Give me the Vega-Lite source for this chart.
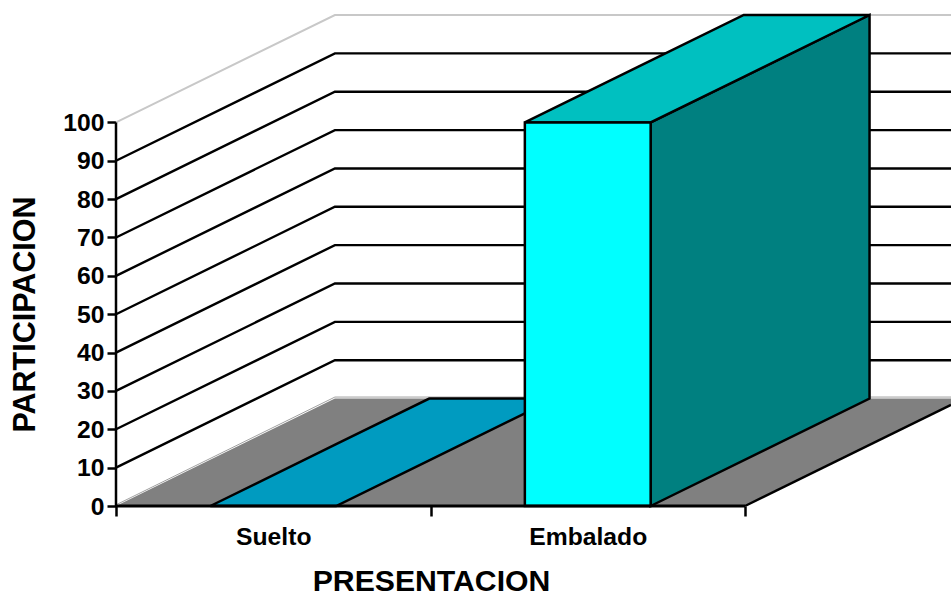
{"$schema":"https://vega.github.io/schema/vega-lite/v6.json","width":835,"height":491,"autosize":"none","padding":{"left":116,"top":15,"right":0,"bottom":88},"background":"white","config":{"view":{"stroke":null},"font":"Liberation Sans"},
"datasets":{
"grid":[{"g":10,"x":0,"y":10},{"g":10,"x":0.696,"y":38},{"g":10,"x":2.655,"y":38},{"g":20,"x":0,"y":20},{"g":20,"x":0.696,"y":48},{"g":20,"x":2.655,"y":48},{"g":30,"x":0,"y":30},{"g":30,"x":0.696,"y":58},{"g":30,"x":2.655,"y":58},{"g":40,"x":0,"y":40},{"g":40,"x":0.696,"y":68},{"g":40,"x":2.655,"y":68},{"g":50,"x":0,"y":50},{"g":50,"x":0.696,"y":78},{"g":50,"x":2.655,"y":78},{"g":60,"x":0,"y":60},{"g":60,"x":0.696,"y":88},{"g":60,"x":2.655,"y":88},{"g":70,"x":0,"y":70},{"g":70,"x":0.696,"y":98},{"g":70,"x":2.655,"y":98},{"g":80,"x":0,"y":80},{"g":80,"x":0.696,"y":108},{"g":80,"x":2.655,"y":108},{"g":90,"x":0,"y":90},{"g":90,"x":0.696,"y":118},{"g":90,"x":2.655,"y":118}],
"grid100":[{"x":0,"y":100},{"x":0.696,"y":128},{"x":2.655,"y":128}],
"edge":[{"x":0,"y":0.3},{"x":0.696,"y":28.4},{"x":2.655,"y":28.4}],
"floor":[{"x":0,"y":0,"y2":0},{"x":0.696,"y":0,"y2":28},{"x":2,"y":0,"y2":28},{"x":2.655,"y":26.35,"y2":28}],
"floorEdge":[{"x":2,"y":0},{"x":2.655,"y":26.35}],
"suelto":[{"x":0.3,"y":0,"y2":0},{"x":0.7,"y":0,"y2":16.1},{"x":0.996,"y":11.9,"y2":28},{"x":1.396,"y":28,"y2":28}],
"side":[{"x":1.7,"y":0,"y2":100},{"x":2.396,"y":28,"y2":128}],
"top":[{"x":1.3,"y":100,"y2":100},{"x":1.7,"y":100,"y2":116.1},{"x":1.996,"y":111.9,"y2":128},{"x":2.396,"y":128,"y2":128}],
"front":[{"x":1.3,"y":0,"y2":100},{"x":1.7,"y":0,"y2":100}],
"axisY":[{"x":0,"y":0,"y2":100}],
"axisX":[{"x":0,"x2":2,"y":0}]},
"encoding":{
"x":{"field":"x","type":"quantitative","scale":{"domain":[0,2.655],"nice":false,"zero":false},
"axis":{"values":[0,0.5,1,1.5,2],"domain":false,"grid":false,"tickColor":"black","tickWidth":2.5,"tickSize":10,"tickOpacity":{"condition":{"test":"datum.value % 1 === 0","value":1},"value":0},"labelExpr":"datum.value === 0.5 ? 'Suelto' : datum.value === 1.5 ? 'Embalado' : ''","labelFont":"Liberation Sans","labelFontSize":24.7,"labelFontWeight":"bold","labelColor":"black","labelPadding":8,"labelOverlap":false,"labelFlush":false,"title":"PRESENTACION","titleFont":"Liberation Sans","titleFontSize":30.2,"titleFontWeight":"bold","titleColor":"black","titleX":315,"titleY":84,"titleAnchor":"middle","titleAlign":"center","titleBaseline":"alphabetic"}},
"y":{"field":"y","type":"quantitative","scale":{"domain":[0,128],"nice":false,"zero":false},
"axis":{"values":[0,10,20,30,40,50,60,70,80,90,100],"domain":false,"grid":false,"tickColor":"black","tickWidth":2.5,"tickSize":9,"labelFont":"Liberation Sans","labelFontSize":24.7,"labelFontWeight":"bold","labelColor":"black","labelPadding":3,"labelOffset":1,"title":"PARTICIPACION","titleFont":"Liberation Sans","titleFontSize":30.5,"titleFontWeight":"bold","titleColor":"black","titleAngle":270,"titleX":-82,"titleY":299,"titleAlign":"center","titleBaseline":"alphabetic"}}},
"layer":[
{"data":{"name":"grid"},"mark":{"type":"line","color":"black","strokeWidth":2.4},"encoding":{"detail":{"field":"g"}}},
{"data":{"name":"grid100"},"mark":{"type":"line","color":"#c8c8c8","strokeWidth":2},"encoding":{}},
{"data":{"name":"edge"},"mark":{"type":"line","color":"#a0a0a0","strokeWidth":1},"encoding":{}},
{"data":{"name":"floor"},"mark":{"type":"area","color":"#808080"},"encoding":{"y2":{"field":"y2"}}},
{"data":{"name":"floorEdge"},"mark":{"type":"line","color":"black","strokeWidth":2.4},"encoding":{}},
{"data":{"name":"suelto"},"mark":{"type":"area","color":"#009BC0","stroke":"black","strokeWidth":2.5},"encoding":{"y2":{"field":"y2"}}},
{"data":{"name":"side"},"mark":{"type":"area","color":"#008080","stroke":"black","strokeWidth":2.5},"encoding":{"y2":{"field":"y2"}}},
{"data":{"name":"top"},"mark":{"type":"area","color":"#00C0C0","stroke":"black","strokeWidth":2.5},"encoding":{"y2":{"field":"y2"}}},
{"data":{"name":"front"},"mark":{"type":"area","color":"#00FFFF","stroke":"black","strokeWidth":2.5},"encoding":{"y2":{"field":"y2"}}},
{"data":{"name":"axisY"},"mark":{"type":"rule","color":"black","strokeWidth":2.5},"encoding":{"y2":{"field":"y2"}}},
{"data":{"name":"axisX"},"mark":{"type":"rule","color":"black","strokeWidth":3},"encoding":{"x2":{"field":"x2"}}}
]}
